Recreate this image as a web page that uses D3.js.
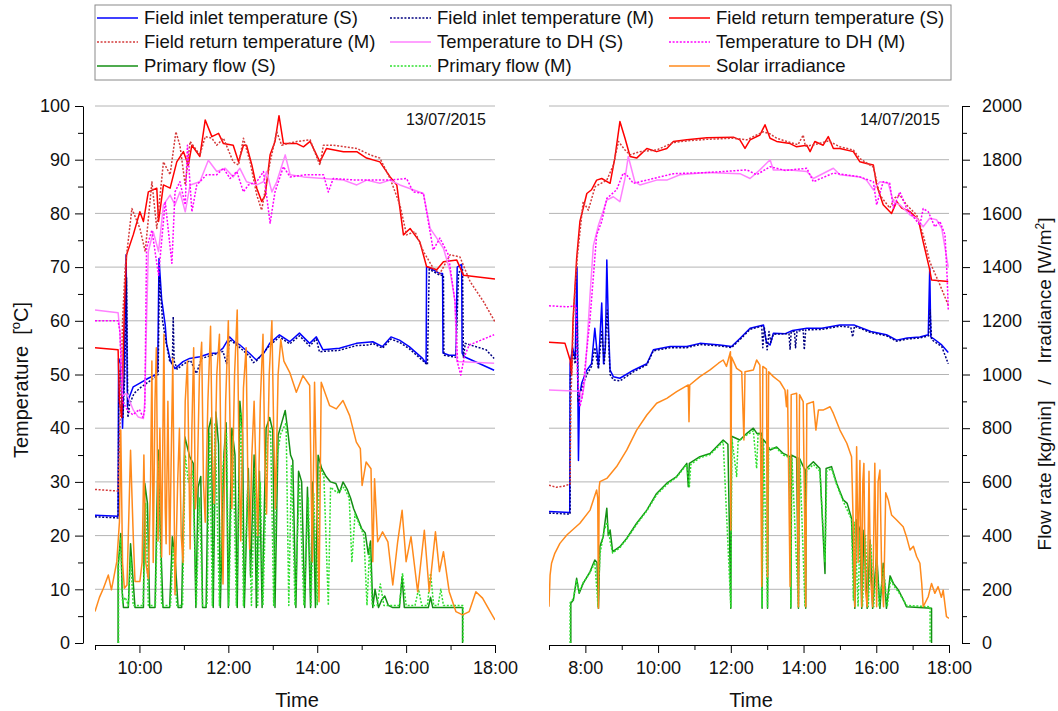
<!DOCTYPE html>
<html>
<head>
<meta charset="utf-8">
<script src="https://cdn.jsdelivr.net/npm/d3@7"></script>
<style>
  body { margin: 0; background: #fff; }
  text { font-family: "Liberation Sans", Arial, sans-serif; fill: #111; }
</style>
</head>
<body>
<svg id="chart" width="1058" height="711"></svg>
<script>
// ---- data: [hour of day, value] ----
// 13/07/2015
var d1InletS = [[9.00,23.8],[9.52,23.6],[9.53,53],[9.58,52],[9.62,40],[9.66,52],[9.70,72.3],[9.73,44],[9.75,45.3],[9.86,47.7],[10.01,48.4],[10.20,49.3],[10.35,49.9],[10.41,50.5],[10.44,71.6],[10.50,64],[10.58,59.2],[10.61,55.8],[10.70,52.5],[10.80,51.1],[10.98,52.4],[11.13,53],[11.36,53.3],[11.58,53.9],[11.75,54],[11.88,54.9],[12.03,57],[12.15,56],[12.26,55.5],[12.48,53.9],[12.63,52.7],[12.80,54],[12.93,55.8],[13.15,57.4],[13.38,56.1],[13.60,57.7],[13.83,55.8],[13.98,57],[14.13,54.6],[14.50,54.9],[14.88,55.8],[15.25,56.1],[15.47,55.2],[15.66,57],[15.85,56.4],[16.07,55.2],[16.37,53],[16.45,52.1],[16.46,70.1],[16.61,69.5],[16.76,68.8],[16.82,68.8],[16.83,54],[16.97,53.6],[17.12,53.6],[17.15,70],[17.25,70.5],[17.26,54],[17.31,53.3],[17.98,50.8]];
var d1InletM = [[9.00,23.5],[9.52,23.3],[9.54,50],[9.58,51],[9.63,42],[9.67,50],[9.71,68],[9.74,42],[9.78,44.5],[9.88,46.5],[10.03,47.6],[10.20,48.6],[10.35,49.5],[10.42,50],[10.45,68],[10.52,60],[10.60,56],[10.68,52.5],[10.74,52],[10.76,60.8],[10.78,52.5],[10.85,51],[11.00,52],[11.15,52.6],[11.28,50.2],[11.40,53],[11.60,53.5],[11.88,54.3],[11.96,52],[12.03,56.5],[12.26,55],[12.48,53.4],[12.56,52.2],[12.63,52.5],[12.93,55.4],[13.15,57],[13.38,55.7],[13.60,57.2],[13.83,55.3],[13.98,56.6],[14.05,54.2],[14.13,54.3],[14.50,54.5],[14.88,55.4],[15.17,55.5],[15.25,55.8],[15.47,54.9],[15.66,56.6],[15.85,56],[16.07,54.8],[16.37,52.6],[16.48,51.8],[16.52,69.6],[16.76,68.5],[16.84,68.5],[16.85,53.6],[17.12,53.2],[17.18,69],[17.27,69.5],[17.29,53],[17.33,55.8],[17.56,55.2],[17.80,54.6],[17.98,53]];
var d1ReturnS = [[9.00,55],[9.52,54.6],[9.55,45],[9.60,42],[9.66,62],[9.71,72.3],[9.86,76],[10.01,80.3],[10.09,78.5],[10.20,84],[10.39,84.7],[10.43,78.5],[10.54,85.3],[10.69,84.7],[10.84,89.6],[10.99,91.5],[11.10,89],[11.18,92.7],[11.36,90.6],[11.48,97.4],[11.63,94.3],[11.78,94.9],[11.89,93],[12.11,92.7],[12.23,89.6],[12.34,92.7],[12.41,92.7],[12.53,89],[12.64,84.7],[12.75,82.2],[12.83,83.4],[12.94,90.9],[13.05,93.4],[13.14,98.2],[13.24,93],[13.54,93],[13.69,92.4],[13.84,93.4],[14.06,89.6],[14.21,92.1],[14.59,91.5],[14.89,91.5],[15.11,90.3],[15.41,89.6],[15.64,86.8],[15.79,85.3],[15.94,76],[16.09,77.2],[16.31,74.7],[16.46,70.1],[16.69,69.5],[16.84,71],[17.14,71.3],[17.29,68.5],[18.00,67.8]];
var d1ReturnM = [[9.00,28.6],[9.52,28.3],[9.56,40],[9.62,60],[9.68,70],[9.83,80.9],[10.01,77.2],[10.13,72.9],[10.28,85.9],[10.39,77.2],[10.54,89.6],[10.69,87.2],[10.82,95.2],[10.91,92.7],[11.03,85.3],[11.14,93.4],[11.36,90.9],[11.48,94.3],[11.63,94],[11.74,92.7],[11.89,94],[12.11,89.6],[12.23,89],[12.34,94],[12.49,89.6],[12.64,83.4],[12.75,80.6],[12.94,89.6],[13.09,95.2],[13.20,92.7],[13.54,93.4],[13.84,93.7],[14.06,89],[14.14,92.7],[14.36,92.7],[14.89,92.1],[15.19,90.9],[15.41,90.3],[15.64,86.5],[15.86,81.6],[16.01,76],[16.20,76.6],[16.39,72.9],[16.61,69.8],[16.76,68.8],[16.99,72.3],[17.21,71.9],[17.44,67.3],[17.74,63.6],[18.00,59.8]];
var d1DhS = [[9.00,62],[9.52,61.5],[9.56,58],[9.62,46],[9.71,46.5],[9.86,43.4],[9.97,42.1],[10.09,41.8],[10.12,45],[10.16,60],[10.20,72.9],[10.31,76.6],[10.43,72.9],[10.54,81.6],[10.69,83.4],[10.80,81.6],[10.91,84],[11.03,80.3],[11.14,85.3],[11.36,85.9],[11.55,89.9],[11.74,87.8],[11.93,88.4],[12.11,86.8],[12.26,88.4],[12.41,85.9],[12.64,85.3],[12.79,85.9],[12.86,87.8],[12.98,84],[13.09,85.9],[13.28,90.9],[13.39,87.2],[13.69,86.8],[14.14,86.5],[14.59,86.2],[14.89,85.3],[15.11,86.2],[15.41,85.6],[15.64,86.2],[15.86,85.3],[16.16,84.4],[16.39,83.7],[16.54,77.2],[16.69,75.4],[16.84,73.5],[16.99,69.2],[17.10,63.6],[17.14,52.4],[17.98,52.1]];
var d1DhM = [[9.00,60],[9.52,60],[9.56,58],[9.62,45],[9.72,43.5],[9.85,42.5],[10.00,43.5],[10.08,42],[10.12,43.4],[10.16,73.5],[10.28,76.9],[10.43,68.5],[10.58,82.2],[10.73,70.7],[10.80,84],[10.91,85.9],[11.03,81.6],[11.08,92.7],[11.18,80.3],[11.29,85.3],[11.51,87.2],[11.74,87.2],[11.89,88.4],[12.04,86.5],[12.19,87.8],[12.34,84],[12.45,85.3],[12.64,85.9],[12.79,87.8],[12.94,78.2],[13.05,84],[13.24,88.7],[13.39,86.8],[13.76,87.2],[14.14,87.2],[14.25,84],[14.36,86.5],[14.89,86.2],[15.26,86.2],[15.64,86.2],[16.01,86.5],[16.16,84],[16.39,83.7],[16.61,73.2],[16.76,75.4],[16.95,72.3],[17.10,63.6],[17.16,52.1],[17.23,49.9],[17.31,53.3],[17.42,55.5],[17.98,57.4]];
var d1FlowS = [[9.52,0],[9.52,284],[9.58,408],[9.61,197],[9.64,132],[9.75,132],[9.80,370],[9.85,250],[9.90,132],[10.09,132],[10.12,595],[10.18,520],[10.23,132],[10.35,132],[10.42,719],[10.47,421],[10.53,132],[10.68,132],[10.74,396],[10.80,322],[10.87,132],[10.95,132],[11.02,768],[11.13,694],[11.21,669],[11.27,132],[11.32,580],[11.38,620],[11.42,132],[11.50,132],[11.56,800],[11.62,840],[11.66,132],[11.72,860],[11.78,740],[11.82,132],[11.90,700],[11.95,820],[12.00,132],[12.08,800],[12.15,700],[12.20,132],[12.26,900],[12.32,780],[12.36,132],[12.45,650],[12.50,250],[12.58,700],[12.63,132],[12.70,640],[12.76,132],[12.85,800],[12.93,840],[13.00,790],[13.05,132],[13.12,773],[13.20,820],[13.28,866],[13.33,800],[13.40,700],[13.45,680],[13.52,132],[13.58,640],[13.65,600],[13.72,132],[13.78,580],[13.85,132],[13.90,600],[13.96,132],[14.02,699],[14.10,650],[14.20,620],[14.30,600],[14.42,594],[14.50,560],[14.58,600],[14.68,570],[14.75,540],[14.82,500],[14.92,460],[15.00,426],[15.08,410],[15.15,330],[15.20,380],[15.25,132],[15.30,200],[15.38,132],[15.45,160],[15.52,175],[15.60,140],[15.70,132],[15.85,132],[15.91,247],[15.96,132],[16.50,132],[16.55,170],[16.60,132],[17.27,132],[17.27,0]];
var d1FlowM = [[9.53,0],[9.53,300],[9.58,390],[9.62,150],[9.68,170],[9.75,140],[9.80,320],[9.86,140],[10.08,140],[10.14,520],[10.20,140],[10.36,140],[10.43,680],[10.50,140],[10.70,140],[10.76,360],[10.84,140],[10.97,140],[11.03,700],[11.10,600],[11.20,640],[11.28,140],[11.35,540],[11.42,140],[11.52,140],[11.58,780],[11.64,140],[11.70,820],[11.80,140],[11.88,660],[11.96,780],[12.01,140],[12.10,770],[12.18,140],[12.28,860],[12.34,140],[12.44,600],[12.52,140],[12.60,650],[12.66,140],[12.72,600],[12.78,140],[12.88,760],[12.95,800],[13.02,140],[13.10,700],[13.18,780],[13.30,820],[13.36,140],[13.42,660],[13.50,140],[13.60,600],[13.70,140],[13.80,540],[13.86,140],[13.92,560],[14.00,140],[14.05,660],[14.15,620],[14.25,140],[14.30,580],[14.45,560],[14.60,580],[14.72,540],[14.78,300],[14.85,480],[14.95,440],[15.05,400],[15.12,140],[15.18,360],[15.24,140],[15.35,140],[15.42,220],[15.50,140],[15.85,140],[15.92,260],[16.00,140],[16.20,140],[16.28,200],[16.35,140],[16.48,140],[16.55,260],[16.62,140],[16.72,140],[16.78,200],[16.84,140],[17.28,140],[17.28,0]];
var d1Irr = [[9.00,117],[9.10,170],[9.19,204],[9.30,253],[9.37,198],[9.49,303],[9.55,451],[9.58,793],[9.62,300],[9.66,204],[9.72,216],[9.80,718],[9.86,400],[9.90,229],[10.01,229],[10.06,300],[10.10,700],[10.14,300],[10.20,240],[10.25,600],[10.28,1050],[10.31,300],[10.35,900],[10.38,1100],[10.42,380],[10.46,800],[10.50,320],[10.55,1150],[10.58,500],[10.60,370],[10.64,900],[10.68,330],[10.75,1060],[10.80,180],[10.86,600],[10.90,800],[10.94,400],[10.98,300],[11.03,900],[11.08,1050],[11.14,350],[11.18,800],[11.22,1100],[11.26,500],[11.30,600],[11.35,1000],[11.40,1120],[11.44,600],[11.48,450],[11.54,900],[11.60,1180],[11.64,700],[11.68,520],[11.74,1000],[11.80,1150],[11.84,600],[11.88,220],[11.94,900],[12.00,1200],[12.04,800],[12.08,500],[12.14,1000],[12.20,1240],[12.24,700],[12.28,380],[12.34,950],[12.40,1100],[12.44,600],[12.48,350],[12.53,700],[12.58,900],[12.62,650],[12.66,400],[12.72,900],[12.78,1150],[12.82,700],[12.86,480],[12.92,1000],[12.98,1200],[13.02,800],[13.06,500],[13.12,1000],[13.18,1130],[13.25,1050],[13.38,1008],[13.53,934],[13.68,996],[13.83,959],[13.89,303],[13.94,971],[14.04,154],[14.09,971],[14.28,884],[14.43,872],[14.58,903],[14.73,847],[14.88,748],[14.97,724],[15.01,587],[15.10,674],[15.21,649],[15.25,303],[15.29,612],[15.36,377],[15.47,414],[15.59,377],[15.70,216],[15.81,377],[15.91,494],[16.00,303],[16.11,396],[16.26,191],[16.41,420],[16.52,191],[16.66,414],[16.75,266],[16.84,340],[16.97,191],[17.12,117],[17.27,105],[17.42,117],[17.57,191],[17.72,167],[17.87,123],[18.00,86]];

// 14/07/2015
var d2InletS = [[7.00,24.5],[7.57,24.3],[7.58,52],[7.65,55],[7.72,53],[7.77,70],[7.79,50],[7.81,34],[7.84,46],[7.90,48.4],[8.04,50.8],[8.17,52],[8.26,58.6],[8.36,51.5],[8.45,63.3],[8.50,52],[8.55,55],[8.59,71.3],[8.63,60],[8.68,50.8],[8.77,49.6],[8.95,49.3],[9.32,50.8],[9.69,52],[9.87,54.6],[10.33,55.2],[10.79,55.2],[11.15,55.8],[11.70,55.5],[12.02,55.2],[12.25,56.7],[12.53,58.6],[12.90,59.2],[12.98,56],[13.08,55.5],[13.17,57.7],[13.50,57.6],[13.70,58.2],[14.09,58.6],[14.50,58.6],[15.00,59.2],[15.40,59.2],[15.85,58],[16.28,57.4],[16.56,56.4],[16.85,56.8],[17.20,57],[17.43,57.4],[17.47,69.8],[17.50,57],[17.57,56.7],[17.80,55.5],[17.98,54.1]];
var d2InletM = [[7.00,24.2],[7.58,24],[7.59,50],[7.66,54],[7.72,52],[7.78,60],[7.80,45],[7.84,46],[7.90,47.5],[8.04,50],[8.17,51.5],[8.26,55],[8.36,51],[8.45,58],[8.52,52],[8.60,62],[8.68,50],[8.77,49],[8.95,48.8],[9.32,50.5],[9.69,51.8],[9.87,54.4],[10.33,55],[10.79,55],[11.15,55.6],[11.70,55.3],[12.02,55],[12.25,56.5],[12.53,58.4],[12.85,59],[12.88,55],[12.92,58.8],[13.00,54.6],[13.05,58],[13.10,56],[13.17,57.5],[13.60,57.6],[13.63,54.6],[13.66,58],[13.75,58],[13.78,55],[13.82,58],[13.99,58.3],[14.02,54.6],[14.06,58.3],[14.50,58.4],[15.00,59],[15.30,58.8],[15.35,57],[15.40,59],[15.85,57.8],[16.28,57.2],[16.56,56.2],[16.85,56.6],[17.20,56.8],[17.44,57.2],[17.48,62],[17.52,56.5],[17.80,55.2],[17.98,52]];
var d2ReturnS = [[7.00,56],[7.44,55.8],[7.58,52.7],[7.62,50],[7.66,60],[7.76,71.6],[7.85,78.5],[8.04,83.7],[8.17,84.4],[8.31,86.2],[8.45,86.5],[8.68,85.6],[8.81,90.3],[8.95,97.1],[9.09,94],[9.23,90.6],[9.41,90.3],[9.69,92.1],[9.96,91.5],[10.24,92.1],[10.42,93.4],[10.79,93.7],[11.34,94.1],[12.07,94.2],[12.25,93.7],[12.39,92.1],[12.53,93.7],[12.80,94.6],[12.94,96.5],[13.08,94],[13.26,93.4],[13.63,93],[13.81,92.4],[14.09,92.7],[14.18,91.5],[14.31,93.4],[14.54,92.7],[14.68,94.3],[14.82,92.1],[15.00,92.1],[15.37,91.5],[15.55,89.6],[15.73,89.3],[15.92,89],[16.01,85.3],[16.19,81.6],[16.42,80],[16.56,82.2],[16.70,81],[16.93,80.3],[17.16,78.8],[17.29,74.7],[17.46,69.8],[17.52,67.6],[17.98,67.3]];
var d2ReturnM = [[7.00,29.4],[7.20,29],[7.40,29.2],[7.58,29.6],[7.60,45],[7.68,62],[7.78,72],[7.94,82.2],[8.08,80.6],[8.27,85],[8.59,86.2],[8.77,89],[8.91,93.4],[9.09,91.8],[9.23,90.9],[9.50,91.5],[9.96,91.8],[10.42,93.2],[10.79,93.5],[11.34,93.8],[12.07,94],[12.44,93.7],[12.89,95.2],[13.08,94.8],[13.26,94],[13.63,93.2],[13.85,92.8],[13.99,94.6],[14.05,92.5],[14.31,92.8],[14.68,93.5],[15.00,92.4],[15.37,91.8],[15.55,90.2],[15.92,88.6],[16.10,83.4],[16.37,81],[16.51,82.9],[16.65,83.4],[16.83,81.6],[17.11,79.7],[17.29,76],[17.47,71],[17.75,66.7],[17.98,62.9]];
var d2DhS = [[7.00,47.1],[7.85,46.9],[7.90,45.5],[7.97,48],[8.04,55],[8.13,65],[8.22,74],[8.36,77.8],[8.59,82.5],[8.77,83.1],[8.95,82.2],[9.09,86.5],[9.18,90.6],[9.36,85.9],[9.50,85.3],[9.96,86.2],[10.24,86.2],[10.60,87.2],[11.34,87.6],[12.25,87.4],[12.53,86.5],[12.80,88.1],[13.08,90],[13.17,88.1],[13.63,88.1],[14.09,87.8],[14.27,86.5],[14.82,88.4],[15.00,87.2],[15.55,86.8],[15.73,86.2],[15.92,84.4],[16.10,85.9],[16.33,85.6],[16.47,82.2],[16.65,81.6],[16.93,79.7],[17.11,79.1],[17.29,77.5],[17.47,79.1],[17.66,78.8],[17.80,77.2],[17.98,70]];
var d2DhM = [[7.00,62.8],[7.50,62.6],[7.75,62.8],[7.78,50],[7.85,44],[7.92,46],[8.00,52],[8.13,60.5],[8.31,76],[8.45,78.5],[8.59,82.8],[8.86,84.4],[9.04,87.5],[9.13,87.2],[9.32,85.6],[9.69,86.2],[10.42,87.4],[11.34,87.6],[12.44,88.1],[12.71,87.2],[13.08,88.7],[13.50,88],[14.09,88.4],[14.27,85.9],[14.82,87.5],[15.55,86.8],[15.92,85.9],[16.01,81.6],[16.19,85.9],[16.37,85.6],[16.47,81],[16.65,84],[16.83,81],[17.20,77.8],[17.29,80.9],[17.43,80.3],[17.61,77.5],[17.75,78.5],[17.89,76],[17.95,68],[17.98,62]];
var d2FlowS = [[7.60,0],[7.60,148],[7.67,160],[7.76,241],[7.83,185],[7.94,222],[8.13,266],[8.26,309],[8.32,300],[8.36,129],[8.40,359],[8.49,396],[8.59,502],[8.63,400],[8.68,421],[8.75,340],[8.95,359],[9.14,390],[9.41,446],[9.69,495],[9.96,557],[10.24,595],[10.51,620],[10.79,669],[10.83,582],[10.86,669],[11.15,694],[11.43,706],[11.79,756],[11.92,740],[12.00,129],[12.02,770],[12.25,756],[12.44,781],[12.62,800],[12.72,780],[12.85,781],[12.86,129],[12.88,760],[13.00,740],[13.01,129],[13.03,730],[13.08,719],[13.26,730],[13.44,706],[13.63,694],[13.65,129],[13.67,700],[13.81,690],[13.86,129],[13.88,690],[14.04,644],[14.06,129],[14.08,650],[14.27,675],[14.45,650],[14.59,259],[14.62,650],[14.77,657],[14.91,595],[15.09,533],[15.20,520],[15.32,464],[15.41,129],[15.45,460],[15.55,421],[15.60,129],[15.66,420],[15.75,129],[15.83,384],[15.90,129],[16.01,334],[16.10,129],[16.19,297],[16.28,129],[16.38,250],[16.47,222],[16.61,197],[16.75,160],[16.83,135],[17.52,129],[17.52,0]];
var d2FlowM = [[7.58,0],[7.58,150],[7.67,165],[7.76,235],[7.83,190],[7.94,225],[8.13,262],[8.26,300],[8.35,135],[8.40,330],[8.52,420],[8.60,450],[8.68,380],[8.75,335],[8.95,355],[9.14,388],[9.41,442],[9.69,492],[9.96,552],[10.24,590],[10.51,618],[10.79,665],[10.86,582],[10.90,665],[11.15,690],[11.43,702],[11.79,750],[12.00,135],[12.03,760],[12.16,620],[12.20,750],[12.44,775],[12.62,790],[12.71,650],[12.75,780],[12.85,775],[12.86,135],[12.90,750],[13.01,135],[13.04,725],[13.26,725],[13.44,700],[13.63,690],[13.65,135],[13.68,690],[13.86,135],[13.90,680],[14.04,135],[14.08,640],[14.27,665],[14.45,640],[14.59,300],[14.64,640],[14.77,650],[14.91,590],[15.09,528],[15.32,460],[15.37,160],[15.41,450],[15.50,135],[15.55,410],[15.62,135],[15.70,400],[15.78,135],[15.85,370],[15.93,135],[16.01,320],[16.08,135],[16.20,280],[16.30,135],[16.40,240],[16.47,215],[16.61,190],[16.75,160],[16.83,140],[17.48,135],[17.48,0]];
var d2Irr = [[7.00,135],[7.03,253],[7.07,297],[7.16,334],[7.30,371],[7.49,402],[7.85,446],[8.13,495],[8.31,570],[8.34,540],[8.36,129],[8.38,580],[8.40,601],[8.59,613],[8.86,657],[9.14,719],[9.41,793],[9.69,849],[9.96,893],[10.24,911],[10.51,936],[10.83,961],[10.85,824],[10.87,961],[11.15,992],[11.43,1017],[11.66,1042],[11.79,1054],[11.88,1030],[11.99,1085],[12.00,421],[12.02,1065],[12.16,1023],[12.30,1010],[12.36,756],[12.39,1010],[12.62,1017],[12.71,1054],[12.80,1035],[12.85,210],[12.88,1030],[12.98,1020],[13.01,247],[13.04,1010],[13.17,992],[13.35,973],[13.49,942],[13.53,880],[13.56,942],[13.63,210],[13.66,925],[13.81,930],[13.86,135],[13.89,925],[13.99,899],[14.06,135],[14.09,890],[14.27,899],[14.34,793],[14.41,868],[14.55,868],[14.73,880],[14.82,855],[15.00,793],[15.19,744],[15.32,694],[15.37,421],[15.41,135],[15.46,731],[15.50,300],[15.55,680],[15.60,135],[15.63,600],[15.66,669],[15.70,200],[15.75,135],[15.80,640],[15.84,250],[15.90,135],[15.96,669],[16.01,135],[16.05,600],[16.10,644],[16.15,250],[16.20,135],[16.26,560],[16.33,533],[16.42,477],[16.56,458],[16.74,433],[16.83,396],[16.93,346],[17.02,360],[17.11,322],[17.20,297],[17.25,222],[17.29,135],[17.43,173],[17.52,222],[17.61,185],[17.70,210],[17.79,170],[17.84,197],[17.93,98],[18.00,92]];

// ---- series description (legend order) ----
var seriesNames = ["Field inlet temperature (S)", "Field inlet temperature (M)", "Field return temperature (S)",
  "Field return temperature (M)", "Temperature to DH (S)", "Temperature to DH (M)",
  "Primary flow (S)", "Primary flow (M)", "Solar irradiance"];
var seriesColors = ["#0000ff", "#000080", "#ff0000", "#d43a3a", "#ff80ff", "#ff00ff", "#148f14", "#2ee02e", "#ff8a1c"];
var seriesDotted = [false, true, false, true, false, true, false, true, false];
var seriesRight = [false, false, false, false, false, false, true, true, true];

var tempTicks = d3.range(0, 101, 10);
var tempMinor = d3.range(5, 100, 10);
var rightTicks = d3.range(0, 2001, 200);
var rightMinor = d3.range(100, 2000, 200);

var panels = [
  { xDomain: [9, 18], xRange: [95, 495], major: [10, 12, 14, 16, 18], minor: [9, 11, 13, 15, 17], date: "13/07/2015",
    data: [d1InletS, d1InletM, d1ReturnS, d1ReturnM, d1DhS, d1DhM, d1FlowS, d1FlowM, d1Irr] },
  { xDomain: [7, 18], xRange: [549, 949], major: [8, 10, 12, 14, 16, 18], minor: [7, 9, 11, 13, 15, 17], date: "14/07/2015",
    data: [d2InletS, d2InletM, d2ReturnS, d2ReturnM, d2DhS, d2DhM, d2FlowS, d2FlowM, d2Irr] }
];

var svg = d3.select('#chart');
var yTop = 106, yBottom = 643, xAxisY = 645;
var tickFont = 18;
var yT = d3.scaleLinear().domain([0, 100]).range([yBottom, yTop]);
var yV = d3.scaleLinear().domain([0, 2000]).range([yBottom, yTop]);

function styleAxis(g) {
  g.selectAll('path.domain').attr('stroke', '#000').attr('stroke-width', 1);
  g.selectAll('.tick line').attr('stroke', '#000').attr('stroke-width', 1);
  g.selectAll('.tick text').attr('font-size', tickFont).attr('fill', '#111')
    .style('font-family', '"Liberation Sans", Arial, sans-serif');
}

panels.forEach(function(p, i) {
  var x = d3.scaleLinear().domain(p.xDomain).range(p.xRange);

  // gridlines
  svg.append('g').selectAll('line')
    .data(tempTicks.filter(function(d) { return d > 0; }))
    .enter().append('line')
    .attr('x1', p.xRange[0]).attr('x2', p.xRange[1])
    .attr('y1', function(d) { return yT(d); }).attr('y2', function(d) { return yT(d); })
    .attr('stroke', '#b4b4b4').attr('stroke-width', 1);

  svg.append('clipPath').attr('id', 'clip' + i)
    .append('rect').attr('x', p.xRange[0]).attr('y', yTop - 6)
    .attr('width', p.xRange[1] - p.xRange[0]).attr('height', yBottom - yTop + 7);

  var plot = svg.append('g').attr('clip-path', 'url(#clip' + i + ')');
  p.data.forEach(function(series, k) {
    var y = seriesRight[k] ? yV : yT;
    var line = d3.line().x(function(d) { return x(d[0]); }).y(function(d) { return y(d[1]); });
    plot.append('path')
      .datum(series)
      .attr('d', line)
      .attr('fill', 'none')
      .attr('stroke', seriesColors[k])
      .attr('stroke-width', 1.5)
      .attr('stroke-linejoin', 'round')
      .attr('stroke-dasharray', seriesDotted[k] ? '2,1.6' : null);
  });

  // x axis
  var gx = svg.append('g').attr('transform', 'translate(0,' + xAxisY + ')')
    .call(d3.axisBottom(x).tickValues(p.major).tickSize(8).tickSizeOuter(0).tickPadding(8)
      .tickFormat(function(d) { return d + ':00'; }));
  styleAxis(gx);
  var gxm = svg.append('g').attr('transform', 'translate(0,' + xAxisY + ')')
    .call(d3.axisBottom(x).tickValues(p.minor).tickSize(5).tickSizeOuter(0).tickFormat(''));
  gxm.select('path.domain').remove();
  styleAxis(gxm);

  svg.append('text')
    .attr('x', (p.xRange[0] + p.xRange[1]) / 2 + 2).attr('y', 707)
    .attr('text-anchor', 'middle').attr('font-size', 20)
    .text('Time');

  svg.append('text')
    .attr('x', p.xRange[1] - 9).attr('y', 125)
    .attr('text-anchor', 'end').attr('font-size', 16)
    .text(p.date);
});

// left temperature axis
var gyl = svg.append('g').attr('transform', 'translate(83,0)')
  .call(d3.axisLeft(yT).tickValues(tempTicks).tickSize(8).tickSizeOuter(0).tickPadding(5));
styleAxis(gyl);
var gylm = svg.append('g').attr('transform', 'translate(83,0)')
  .call(d3.axisLeft(yT).tickValues(tempMinor).tickSize(5).tickSizeOuter(0).tickFormat(''));
gylm.select('path.domain').remove();
styleAxis(gylm);

// right flow / irradiance axis
var gyr = svg.append('g').attr('transform', 'translate(962,0)')
  .call(d3.axisRight(yV).tickValues(rightTicks).tickSize(8).tickSizeOuter(0).tickPadding(12)
    .tickFormat(d3.format('d')));
styleAxis(gyr);
var gyrm = svg.append('g').attr('transform', 'translate(962,0)')
  .call(d3.axisRight(yV).tickValues(rightMinor).tickSize(5).tickSizeOuter(0).tickFormat(''));
gyrm.select('path.domain').remove();
styleAxis(gyrm);

// axis titles
var tl = svg.append('text')
  .attr('transform', 'translate(28,380) rotate(-90)')
  .attr('text-anchor', 'middle').attr('font-size', 20)
  .attr('xml:space', 'preserve');
tl.append('tspan').text('Temperature  [');
tl.append('tspan').attr('font-size', 13).attr('dy', -8).text('o');
tl.append('tspan').attr('dy', 8).text('C]');

var tr = svg.append('text')
  .attr('transform', 'translate(1051,384) rotate(-90)')
  .attr('text-anchor', 'middle').attr('font-size', 19)
  .attr('xml:space', 'preserve');
tr.append('tspan').text('Flow rate [kg/min]   /   Irradiance [W/m');
tr.append('tspan').attr('font-size', 12).attr('dy', -7).text('2');
tr.append('tspan').attr('dy', 7).text(']');

// legend
var legend = svg.append('g');
legend.append('rect')
  .attr('x', 95).attr('y', 5).attr('width', 856).attr('height', 75)
  .attr('fill', '#fff').attr('stroke', '#8a8a8a').attr('stroke-width', 1);
var legendCols = [97, 390, 669];
var legendRows = [18, 42, 66];
seriesNames.forEach(function(name, k) {
  var cx = legendCols[k % 3], cy = legendRows[Math.floor(k / 3)];
  legend.append('line')
    .attr('x1', cx).attr('x2', cx + 41).attr('y1', cy).attr('y2', cy)
    .attr('stroke', seriesColors[k]).attr('stroke-width', 1.6)
    .attr('stroke-dasharray', seriesDotted[k] ? '2,1.6' : null);
  legend.append('text')
    .attr('x', cx + 47).attr('y', cy + 6)
    .attr('font-size', 18.5)
    .text(name);
});
</script>
</body>
</html>
